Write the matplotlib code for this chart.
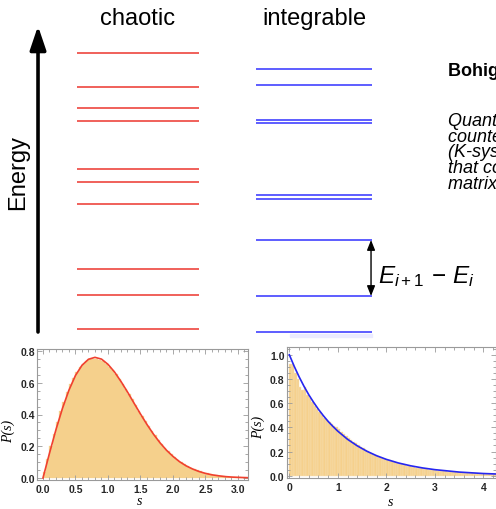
import numpy as np
import matplotlib.pyplot as plt
from matplotlib.patches import Rectangle

plt.rcParams['font.family'] = ['Liberation Sans', 'DejaVu Sans']
plt.rcParams['mathtext.fontset'] = 'custom'
plt.rcParams['mathtext.rm'] = 'Liberation Sans'
plt.rcParams['mathtext.it'] = 'Liberation Sans:italic'

# energy levels (arbitrary units) for the two spectra
chaotic_levels = [28.1, 24.7, 22.6, 21.3, 16.5, 15.2, 13.0, 6.5, 3.9, 0.5]
integrable_levels = [26.5, 24.9, 21.45, 21.1, 13.95, 13.5, 9.4, 3.8, 0.2]
spacing_pair = (3.8, 9.4)

# level spacing histogram, chaotic (GOE-like), bin width 0.05
goe_bin = 0.05
goe_hist = [0.04, 0.12, 0.20, 0.28, 0.35, 0.42, 0.48, 0.54, 0.59, 0.63,
            0.67, 0.70, 0.72, 0.74, 0.75, 0.75, 0.75, 0.745, 0.735, 0.72,
            0.70, 0.68, 0.655, 0.625, 0.595, 0.56, 0.53, 0.495, 0.46, 0.425,
            0.39, 0.36, 0.325, 0.295, 0.27, 0.24, 0.215, 0.19, 0.17, 0.15,
            0.13, 0.115, 0.10, 0.088, 0.076, 0.066, 0.056, 0.048, 0.041, 0.034,
            0.029, 0.024, 0.020, 0.017, 0.014, 0.011, 0.009, 0.0075, 0.006, 0.005,
            0.004, 0.003, 0.0025]
goe_s = [0.0, 0.1, 0.2, 0.3, 0.4, 0.5, 0.6, 0.7, 0.8, 0.9, 1.0, 1.1, 1.2, 1.3,
         1.4, 1.5, 1.6, 1.7, 1.8, 1.9, 2.0, 2.1, 2.2, 2.3, 2.4, 2.5, 2.6, 2.7,
         2.8, 2.9, 3.0, 3.15]
goe_curve = [0.0, 0.156, 0.305, 0.439, 0.554, 0.646, 0.710, 0.748, 0.760, 0.749,
             0.716, 0.668, 0.608, 0.542, 0.472, 0.403, 0.337, 0.276, 0.222, 0.175,
             0.136, 0.103, 0.077, 0.057, 0.041, 0.029, 0.020, 0.014, 0.009, 0.006,
             0.004, 0.002]

# level spacing histogram, integrable (Poisson-like), bin width 0.05
poi_bin = 0.05
poi_hist = [0.92, 0.92, 0.85, 0.80, 0.73, 0.71, 0.73, 0.67, 0.64, 0.61,
            0.58, 0.555, 0.53, 0.50, 0.48, 0.46, 0.44, 0.425, 0.41, 0.40,
            0.39, 0.365, 0.345, 0.33, 0.31, 0.295, 0.28, 0.27, 0.255, 0.24,
            0.225, 0.215, 0.205, 0.19, 0.18, 0.175, 0.165, 0.155, 0.15, 0.14,
            0.133, 0.126, 0.119, 0.112, 0.105, 0.099, 0.093, 0.088, 0.083, 0.079,
            0.075, 0.071, 0.067, 0.063, 0.060, 0.057, 0.054, 0.051, 0.048, 0.046,
            0.044, 0.041, 0.039, 0.037, 0.035, 0.033, 0.031, 0.030, 0.028, 0.027,
            0.025, 0.024, 0.023, 0.022, 0.021, 0.020, 0.019, 0.018, 0.017, 0.016,
            0.016, 0.015, 0.014, 0.013, 0.013]
poi_s = [0.0, 0.1, 0.2, 0.3, 0.4, 0.5, 0.6, 0.7, 0.8, 0.9, 1.0, 1.2, 1.4, 1.6,
         1.8, 2.0, 2.25, 2.5, 2.75, 3.0, 3.5, 4.0, 4.3]
poi_curve = [1.0, 0.905, 0.819, 0.741, 0.670, 0.607, 0.549, 0.497, 0.449, 0.407,
             0.368, 0.301, 0.247, 0.202, 0.165, 0.135, 0.105, 0.082, 0.064, 0.050,
             0.030, 0.018, 0.0136]

red = '#f0605a'
blue = '#3232ff'
fill = '#f5d08c'

fig = plt.figure(figsize=(4.96, 5.10), dpi=100)

# ---- top: level diagram ----
ax = fig.add_axes([0, 1 - 340 / 510, 1, 340 / 510])
ax.set_xlim(-0.784, 2.034)
ax.set_ylim(-0.5, 33.5)
ax.axis('off')

ax.hlines(chaotic_levels, -0.347, 0.347, color=red, lw=1.4)
ax.hlines(integrable_levels, 1 - 0.331, 1 + 0.331, color=blue, lw=1.1)

ax.text(0, 31.6, 'chaotic', ha='center', va='center', fontsize=17)
ax.text(1, 31.6, 'integrable', ha='center', va='center', fontsize=17)

ax.annotate('', xy=(-0.568, 30.8), xytext=(-0.568, 0.2),
            arrowprops=dict(arrowstyle='-|>,head_length=0.65,head_width=0.22',
                            mutation_scale=22, lw=2.6, color='black',
                            shrinkA=0, shrinkB=0))
ax.text(-0.682, 16.2, 'Energy', rotation=90, ha='center', va='center', fontsize=17)

ax.annotate('', xy=(1.324, spacing_pair[1]), xytext=(1.324, spacing_pair[0]),
            arrowprops=dict(arrowstyle='<|-|>,head_length=0.5,head_width=0.2',
                            mutation_scale=12, lw=1.0, color='black',
                            shrinkA=0, shrinkB=0))
ax.text(1.364, 5.8, r'$E_{i+1}\,-\,E_i$', ha='left', va='center', fontsize=17.5)

ax.text(1.761, 26.3, 'Bohigas-Giannoni-Schmit conjecture', ha='left',
        va='center', fontsize=13, fontweight='bold')
ax.text(1.761, 22.2,
        'Quantum systems whose classical\n'
        'counterparts are chaotic\n'
        '(K-systems) have level statistics\n'
        'that coincide with random\n'
        'matrix theory',
        ha='left', va='top', fontsize=13, style='italic', linespacing=0.9)

fig.patches.append(Rectangle((290 / 496, 172 / 510), 82 / 496, 3 / 510,
                             transform=fig.transFigure, color='#ebebff', zorder=0))


def style_panel(a, xmaj, xmin_, ymaj, ymin_):
    for sp in a.spines.values():
        sp.set_color('#9a9a9a')
        sp.set_linewidth(0.8)
    a.set_xticks(xmaj)
    a.set_xticks(xmin_, minor=True)
    a.set_yticks(ymaj)
    a.set_yticks(ymin_, minor=True)
    a.tick_params(which='both', direction='in', top=True, right=True,
                  color='#9a9a9a', width=0.6)
    a.tick_params(which='major', length=3.5, labelsize=7.5, labelcolor='#262626')
    a.tick_params(which='minor', length=2)
    a.tick_params(axis='x', pad=3)
    a.tick_params(axis='y', pad=1.5)
    for lab in a.get_xticklabels() + a.get_yticklabels():
        lab.set_fontweight('bold')
    a.set_xlabel('s', family='Liberation Serif', style='italic', fontsize=10)
    a.set_ylabel('P(s)', family='Liberation Serif', style='italic', fontsize=10)


# ---- bottom left: chaotic spacing distribution ----
ax1 = fig.add_axes([37 / 496, 29 / 510, 211 / 496, 131 / 510])
edges = np.arange(len(goe_hist)) * goe_bin
ax1.bar(edges, goe_hist, width=goe_bin, align='edge', color=fill,
        edgecolor=fill, linewidth=0.2)
ax1.plot(goe_s, goe_curve, color='#f0402f', lw=1.2)
ax1.set_xlim(-0.092, 3.154)
ax1.set_ylim(-0.0126, 0.8126)
ax1.xaxis.set_major_formatter(plt.FormatStrFormatter('%.1f'))
ax1.yaxis.set_major_formatter(plt.FormatStrFormatter('%.1f'))
style_panel(ax1, np.arange(0, 3.01, 0.5), np.arange(0, 3.16, 0.1),
            np.arange(0, 0.81, 0.2), np.arange(0, 0.81, 0.05))
ax1.xaxis.set_label_coords(0.488, -0.11)
ax1.yaxis.set_label_coords(-0.104, 0.38)

# ---- bottom right: integrable spacing distribution ----
ax2 = fig.add_axes([286.7 / 496, 31 / 510, 209.3 / 496, 131 / 510])
edges = np.arange(len(poi_hist)) * poi_bin
ax2.bar(edges, poi_hist, width=poi_bin, align='edge', color=fill,
        edgecolor='#f9e2b8', linewidth=0.3)
ax2.plot(poi_s, poi_curve, color='#2626f0', lw=1.2)
ax2.set_xlim(-0.054, 4.26)
ax2.set_ylim(-0.019, 1.064)
ax2.yaxis.set_major_formatter(plt.FormatStrFormatter('%.1f'))
style_panel(ax2, np.arange(0, 4.1, 1), np.arange(0, 4.3, 0.2),
            np.arange(0, 1.01, 0.2), np.arange(0, 1.06, 0.05))
ax2.xaxis.set_label_coords(0.494, -0.13)
ax2.yaxis.set_label_coords(-0.104, 0.39)

fig.savefig('out.png', dpi=100)
